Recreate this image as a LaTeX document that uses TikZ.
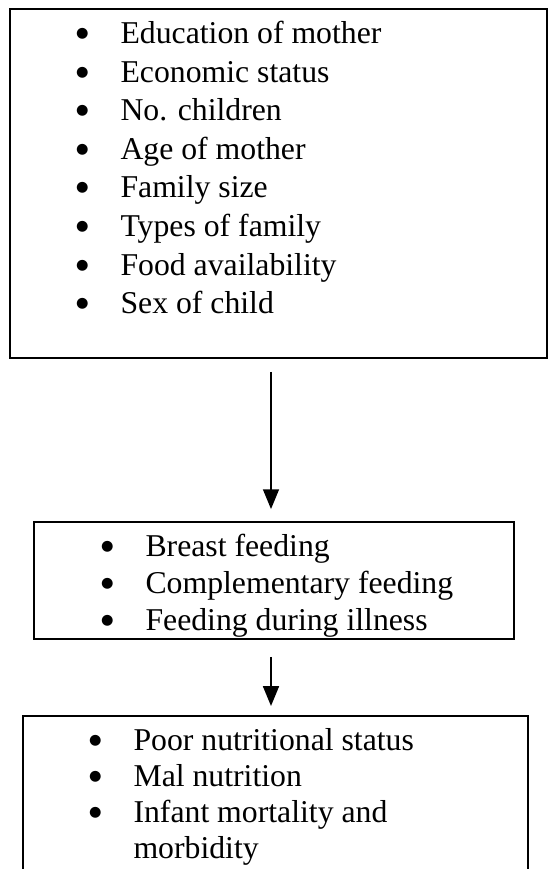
\documentclass[tikz,border=0pt]{standalone}
\usepackage{fontspec}
\setmainfont{Liberation Serif}
\newfontfamily\dotfont{DejaVu Sans}
\usetikzlibrary{fit,arrows.meta}
\newcommand{\itembullet}{\llap{\raisebox{2.1pt}{\dotfont\fontsize{5.4}{6}\selectfont ●}\hspace{12.1pt}}}

\begin{document}
\begin{tikzpicture}[
  x=0.378pt, y=-0.378pt,
  box/.style={rectangle, draw=black, line width=0.75pt, inner sep=0pt},
  item/.style={anchor=base west, inner sep=0pt, font=\fontsize{12}{14}\selectfont},
  arrow/.style={-{Triangle[length=7.5pt,width=6pt]}, line width=0.75pt}
]
\useasboundingbox (0,0) rectangle (556,869);

% Boxes
\node[box, fit={(10,9) (547,358)}] (factors) {};
\node[box, fit={(34,522) (514,639)}] (practices) {};
\node[box, fit={(23,716) (528,880)}] (outcomes) {};

% Determinants
\node[item] (edu) at (120,43) {\itembullet Education of mother};
\node[item] (econ) at (120,82) {\itembullet Economic status};
\node[item] (children) at (120,120) {\itembullet No. children};
\node[item] (age) at (120,159) {\itembullet Age of mother};
\node[item] (size) at (120,197) {\itembullet Family size};
\node[item] (types) at (120,236) {\itembullet Types of family};
\node[item] (food) at (120,275) {\itembullet Food availability};
\node[item] (sex) at (120,313) {\itembullet Sex of child};

% Feeding practices
\node[item] (breast) at (145,556) {\itembullet Breast feeding};
\node[item] (compl) at (145,593) {\itembullet Complementary feeding};
\node[item] (illness) at (145,630) {\itembullet Feeding during illness};

% Outcomes
\node[item] (poor) at (133,750) {\itembullet Poor nutritional status};
\node[item] (mal) at (133,786) {\itembullet Mal nutrition};
\node[item] (infant) at (133,822) {\itembullet Infant mortality and};
\node[item] (morb) at (133,858) {morbidity};

% Arrows
\coordinate (spine) at (271,0);
\draw[arrow, shorten <=4.9pt, shorten >=4.5pt] (factors.south -| spine) -- (practices.north -| spine);
\draw[arrow, shorten <=6.4pt, shorten >=3.4pt] (practices.south -| spine) -- (outcomes.north -| spine);

\end{tikzpicture}
\end{document}
